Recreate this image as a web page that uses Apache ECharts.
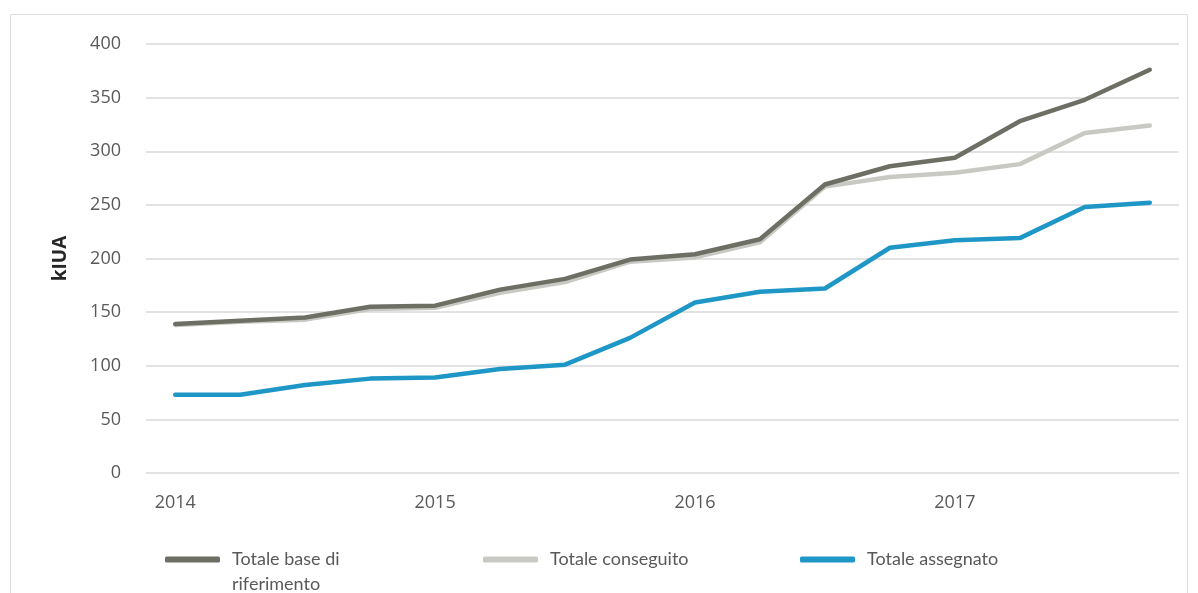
<!DOCTYPE html>
<html>
<head>
<meta charset="utf-8">
<script src="https://cdn.jsdelivr.net/npm/echarts@6/dist/echarts.min.js"></script>
<style>
  html, body { margin: 0; padding: 0; background: #fff; }
  #chart { width: 1198px; height: 593px; }
</style>
</head>
<body>
<div id="chart"></div>
<script>
// quarterly points, 2014 Q1 .. 2017 Q4
const quarters = [
  '2014 Q1', '2014 Q2', '2014 Q3', '2014 Q4',
  '2015 Q1', '2015 Q2', '2015 Q3', '2015 Q4',
  '2016 Q1', '2016 Q2', '2016 Q3', '2016 Q4',
  '2017 Q1', '2017 Q2', '2017 Q3', '2017 Q4'
];
const yearTicks = [0, 4, 8, 12];
const yearLabels = ['2014', '2015', '2016', '2017'];

const baseRif = [139, 142, 145, 155, 156, 171, 181, 199, 204, 218, 269, 286, 294, 328, 348, 376];
const conseguito = [138, 141, 143, 153, 154, 168, 178, 197, 201, 215, 267, 276, 280, 288, 317, 324];
const assegnato = [73, 73, 82, 88, 89, 97, 101, 126, 159, 169, 172, 210, 217, 219, 248, 252];

const names = ['Totale base di riferimento', 'Totale conseguito', 'Totale assegnato'];
const colors = ['#6e6f64', '#c9c9c3', '#1f97c6'];

const toPoints = (vals) => vals.map((v, i) => [i, v]);

const chart = echarts.init(document.getElementById('chart'));
const labelColor = '#595959';
const gridLine = '#d9d9d9';

function legendAt(left, top, name, extra) {
  return Object.assign({
    left: left,
    top: top,
    padding: 0,
    data: [name],
    icon: 'roundRect',
    itemWidth: 55,
    itemHeight: 6,
    itemGap: 0,
    selectedMode: false,
    formatter: (n) => '{t|' + n + '}',
    textStyle: {
      color: labelColor, fontFamily: 'Lato', fontSize: 18, lineHeight: 25,
      rich: { t: { color: labelColor, fontFamily: 'Lato', fontSize: 18, lineHeight: 25, padding: [0, 0, 0, 7] } }
    }
  }, extra || {});
}

chart.setOption({
  animation: false,
  graphic: [{
    type: 'rect',
    shape: { x: 10.5, y: 14.5, width: 1177, height: 620 },
    style: { fill: 'none', stroke: '#dcdcdc', lineWidth: 1 },
    silent: true
  }],
  grid: { left: 146, right: 19, top: 44, bottom: 120 },
  legend: [
    // empty first line keeps the icon level with "Totale base di"
    legendAt(165, 522, names[0], {
      formatter: () => '{t| }\n{t|Totale base di}\n{t|riferimento}'
    }),
    legendAt(483, 547, names[1]),
    legendAt(800, 547, names[2])
  ],
  xAxis: {
    type: 'value',
    min: -0.45,
    max: 15.45,
    axisLine: { show: false },
    axisTick: { show: false },
    splitLine: { show: false },
    axisLabel: {
      customValues: yearTicks,
      formatter: (v) => yearLabels[yearTicks.indexOf(Math.round(v))] || '',
      color: labelColor,
      fontFamily: 'Open Sans',
      fontSize: 18,
      margin: 21
    }
  },
  yAxis: {
    type: 'value',
    min: 0,
    max: 400,
    interval: 50,
    name: 'kIUA',
    nameLocation: 'middle',
    nameRotate: 90,
    nameGap: 76,
    nameTextStyle: { color: '#262626', fontFamily: 'Open Sans', fontWeight: 'bold', fontSize: 19 },
    axisLine: { show: false },
    axisTick: { show: false },
    axisLabel: { color: labelColor, fontFamily: 'Open Sans', fontSize: 18, margin: 25 },
    splitLine: { lineStyle: { color: gridLine, width: 1.5 } }
  },
  series: [
    { name: names[0], data: toPoints(baseRif) },
    { name: names[1], data: toPoints(conseguito) },
    { name: names[2], data: toPoints(assegnato) }
  ].map((s, i) => Object.assign(s, {
    type: 'line',
    showSymbol: false,
    z: 3 - i,
    color: colors[i],
    lineStyle: { width: 4.5, color: colors[i], cap: 'round', join: 'round' }
  }))
});
</script>
</body>
</html>
